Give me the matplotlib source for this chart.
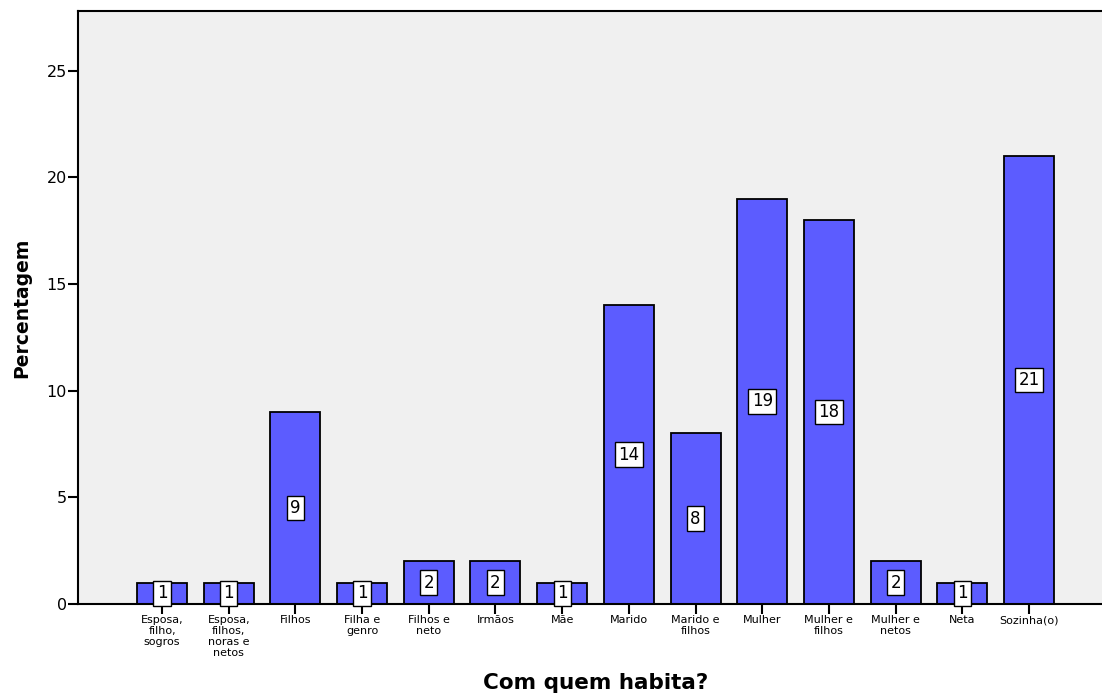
import matplotlib
matplotlib.use("Agg")
import matplotlib.pyplot as plt
import numpy as np

plt.rcParams['font.family'] = ['DejaVu Sans']

categories = ["Esposa,\nfilho,\nsogros", "Esposa,\nfilhos,\nnoras e\nnetos", "Filhos",
              "Filha e\ngenro", "Filhos e\nneto", "Irmãos", "Mãe", "Marido",
              "Marido e\nfilhos", "Mulher", "Mulher e\nfilhos", "Mulher e\nnetos",
              "Neta", "Sozinha(o)"]
values = [1, 1, 9, 1, 2, 2, 1, 14, 8, 19, 18, 2, 1, 21]
yticks = [0, 5, 10, 15, 20, 25]

fig = plt.figure(figsize=(11.02, 6.93), dpi=100)
ax = fig.add_axes([78 / 1102, 1 - 604 / 693, (1113 - 78) / 1102, (604 - 11) / 693])
ax.set_facecolor('#F0F0F0')

x = np.arange(len(categories))
ax.bar(x, values, width=0.75, color='#5C5CFF', edgecolor='black', linewidth=1.3, zorder=2)

for xi, v in zip(x, values):
    ax.text(xi, v / 2, str(v), ha='center', va='center', fontsize=12, zorder=3,
            bbox=dict(boxstyle='square,pad=0.2', facecolor='white', edgecolor='black', linewidth=1.0))

ax.set_xlim(-1.26, len(categories) - 1 + 1.26)
ax.set_ylim(0, 27.8)
ax.set_yticks(yticks)
ax.set_xticks(x)
ax.set_xticklabels(categories, fontsize=8, linespacing=1.12)
ax.tick_params(axis='y', labelsize=11.5, length=7, width=1.5, direction='out', pad=1)
ax.tick_params(axis='x', length=7, width=1.5, direction='out', pad=1)
for s in ['top', 'left', 'bottom']:
    ax.spines[s].set_linewidth(1.5)
ax.spines['right'].set_visible(False)

ax.set_ylabel('Percentagem', fontsize=13.5, fontweight='bold', labelpad=11)
fig.text(596 / 1102, 1 - 683 / 693, 'Com quem habita?', ha='center', va='center',
         fontsize=15.5, fontweight='bold')

fig.savefig('out.png', dpi=100)
